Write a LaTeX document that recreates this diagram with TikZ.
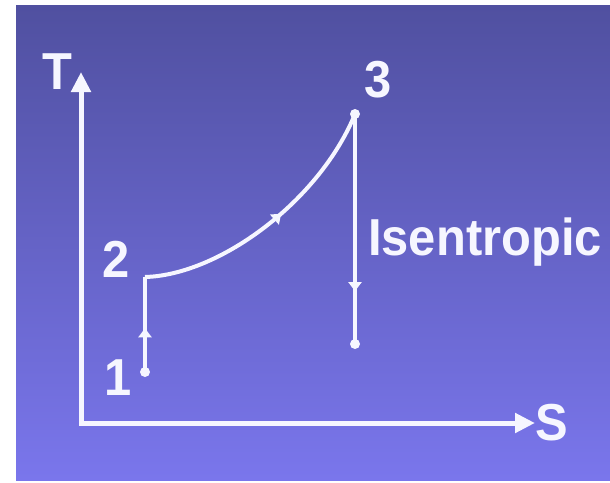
\documentclass[tikz,border=0pt]{standalone}
\usepackage{fontspec}
\setmainfont{Liberation Sans}[FakeStretch=0.94]
\usepackage{xcolor}
\usepackage{tikz}
\usetikzlibrary{arrows.meta,decorations.markings}
\definecolor{slidetop}{RGB}{80,80,160}
\definecolor{slidebot}{RGB}{122,118,236}
\definecolor{chalk}{RGB}{246,246,255}

\begin{document}
\begin{tikzpicture}[x=1pt, y=-1pt,
  axis/.style={line width=5pt, chalk, {Triangle[length=20pt,width=19pt]}-{Triangle[length=20pt,width=19pt]}},
  path line/.style={line width=4pt, chalk},
  mid arrow/.style={postaction={decorate}, decoration={markings,
    mark=at position #1 with {\arrow{Triangle[length=9pt,width=13pt]}}}},
  state dot/.style={circle, fill=chalk, inner sep=0pt, minimum size=10pt},
  lbl/.style={text=chalk, font=\fontsize{52}{52}\selectfont\bfseries, inner sep=0pt}]
\useasboundingbox (0,0) rectangle (610,482);
\fill[white] (0,0) rectangle (610,482);
\shade[top color=slidetop, bottom color=slidebot] (16,5) rectangle (610,480);

% axes
\coordinate (origin) at (81,423);
\coordinate (ttip) at (81,72);
\coordinate (stip) at (535,423);
\draw[axis] (ttip) -- (origin) -- (stip);

% states
\node[state dot] (p1) at (145,372) {};
\node[inner sep=0pt] (p2) at (145,277) {};
\node[state dot] (p3) at (355,114) {};
\node[state dot] (p4) at (355,344) {};

\draw[path line, mid arrow=0.46] (p1.center) -- (p2.center);
\draw[path line, mid arrow=0.55] (p2.center) .. controls (220,275) and (320,200) .. (p3.center);
\draw[path line, mid arrow=0.77] (p3.center) -- (p4.center);

% labels
\node[lbl] (tlab) at (57,72) {T};
\node[lbl] (slab) at (552,423) {S};
\node[lbl] (l3) at (378,80) {3};
\node[lbl] (l2) at (116,259) {2};
\node[lbl] (l1) at (118,378) {1};
\node[lbl, anchor=base west] (isen) at (368,255) {Isentropic};
\end{tikzpicture}
\end{document}
